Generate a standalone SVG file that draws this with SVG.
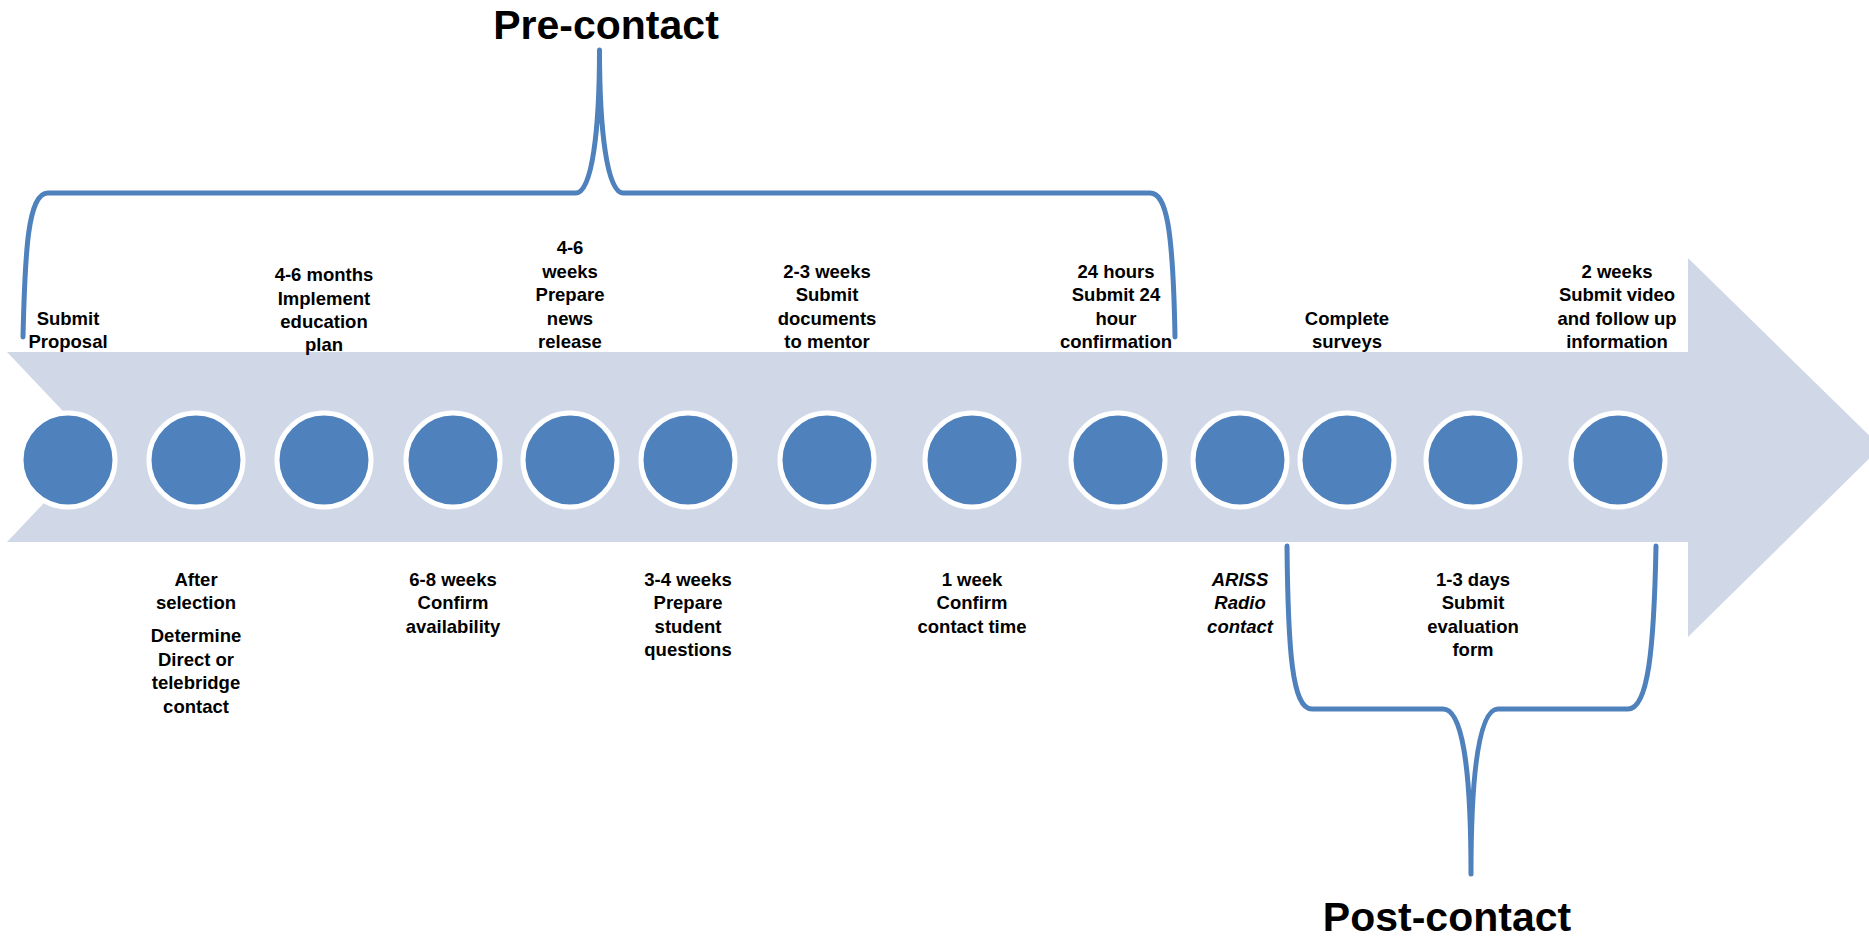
<svg xmlns="http://www.w3.org/2000/svg" width="1869" height="939" viewBox="0 0 1869 939">
<style>
.lbl{font-family:"Liberation Sans",Arial,sans-serif;font-weight:bold;font-size:18.5px;fill:#000;text-anchor:middle}
.it{font-style:italic}
.title{font-family:"Liberation Sans",Arial,sans-serif;font-weight:bold;font-size:41px;fill:#000;text-anchor:middle}
.dot{fill:#4F81BD;stroke:#FFFFFF;stroke-width:5}
.brace{fill:none;stroke:#4F81BD;stroke-width:5;stroke-linecap:round;stroke-linejoin:round}
</style>
<rect width="1869" height="939" fill="#FFFFFF"/>
<g id="arrow">
<polygon points="7,352 1688,352 1688,258 1881,447 1688,637 1688,542 7,542 97,447" fill="#D0D8E8"/>
</g>
<g id="connectors">
<path class="brace" d="M23,337 C25,250 28,193 48,193 L576,193 C592,193 599.5,130 599.5,50 C599.5,130 607,193 623,193 L1150,193 C1166,193 1173,225 1175,337"/>
<path class="brace" d="M1287,546 C1288,650 1292,709 1312,709 L1443,709 C1461,709 1471,760 1471,874 C1471,760 1481,709 1498,709 L1628,709 C1648,709 1654,650 1656,546"/>
</g>
<g id="n1"><circle class="dot" cx="68" cy="460" r="47"/>
<text class="lbl" x="68" y="325">Submit</text><text class="lbl" x="68" y="348">Proposal</text></g>
<g id="n2"><circle class="dot" cx="196" cy="460" r="47"/>
<text class="lbl" x="196" y="586">After</text><text class="lbl" x="196" y="609">selection</text>
<text class="lbl" x="196" y="642">Determine</text><text class="lbl" x="196" y="665.5">Direct or</text><text class="lbl" x="196" y="689">telebridge</text><text class="lbl" x="196" y="712.5">contact</text></g>
<g id="n3"><circle class="dot" cx="324" cy="460" r="47"/>
<text class="lbl" x="324" y="281">4-6 months</text><text class="lbl" x="324" y="304.5">Implement</text><text class="lbl" x="324" y="328">education</text><text class="lbl" x="324" y="351">plan</text></g>
<g id="n4"><circle class="dot" cx="453" cy="460" r="47"/>
<text class="lbl" x="453" y="586">6-8 weeks</text><text class="lbl" x="453" y="609">Confirm</text><text class="lbl" x="453" y="632.5">availability</text></g>
<g id="n5"><circle class="dot" cx="570" cy="460" r="47"/>
<text class="lbl" x="570" y="254">4-6</text><text class="lbl" x="570" y="277.5">weeks</text><text class="lbl" x="570" y="301">Prepare</text><text class="lbl" x="570" y="324.5">news</text><text class="lbl" x="570" y="348">release</text></g>
<g id="n6"><circle class="dot" cx="688" cy="460" r="47"/>
<text class="lbl" x="688" y="586">3-4 weeks</text><text class="lbl" x="688" y="609">Prepare</text><text class="lbl" x="688" y="632.5">student</text><text class="lbl" x="688" y="656">questions</text></g>
<g id="n7"><circle class="dot" cx="827" cy="460" r="47"/>
<text class="lbl" x="827" y="277.5">2-3 weeks</text><text class="lbl" x="827" y="301">Submit</text><text class="lbl" x="827" y="324.5">documents</text><text class="lbl" x="827" y="348">to mentor</text></g>
<g id="n8"><circle class="dot" cx="972" cy="460" r="47"/>
<text class="lbl" x="972" y="586">1 week</text><text class="lbl" x="972" y="609">Confirm</text><text class="lbl" x="972" y="632.5">contact time</text></g>
<g id="n9"><circle class="dot" cx="1118" cy="460" r="47"/>
<text class="lbl" x="1116" y="277.5">24 hours</text><text class="lbl" x="1116" y="301">Submit 24</text><text class="lbl" x="1116" y="324.5">hour</text><text class="lbl" x="1116" y="348">confirmation</text></g>
<g id="n10"><circle class="dot" cx="1240" cy="460" r="47"/>
<text class="lbl it" x="1240" y="586">ARISS</text><text class="lbl it" x="1240" y="609">Radio</text><text class="lbl it" x="1240" y="632.5">contact</text></g>
<g id="n11"><circle class="dot" cx="1347" cy="460" r="47"/>
<text class="lbl" x="1347" y="325">Complete</text><text class="lbl" x="1347" y="348">surveys</text></g>
<g id="n12"><circle class="dot" cx="1473" cy="460" r="47"/>
<text class="lbl" x="1473" y="586">1-3 days</text><text class="lbl" x="1473" y="609">Submit</text><text class="lbl" x="1473" y="632.5">evaluation</text><text class="lbl" x="1473" y="656">form</text></g>
<g id="n13"><circle class="dot" cx="1618" cy="460" r="47"/>
<text class="lbl" x="1617" y="277.5">2 weeks</text><text class="lbl" x="1617" y="301">Submit video</text><text class="lbl" x="1617" y="324.5">and follow up</text><text class="lbl" x="1617" y="348">information</text></g>
<g id="pre"><text class="title" x="606" y="39">Pre-contact</text></g>
<g id="post"><text class="title" x="1447" y="931">Post-contact</text></g>
</svg>
